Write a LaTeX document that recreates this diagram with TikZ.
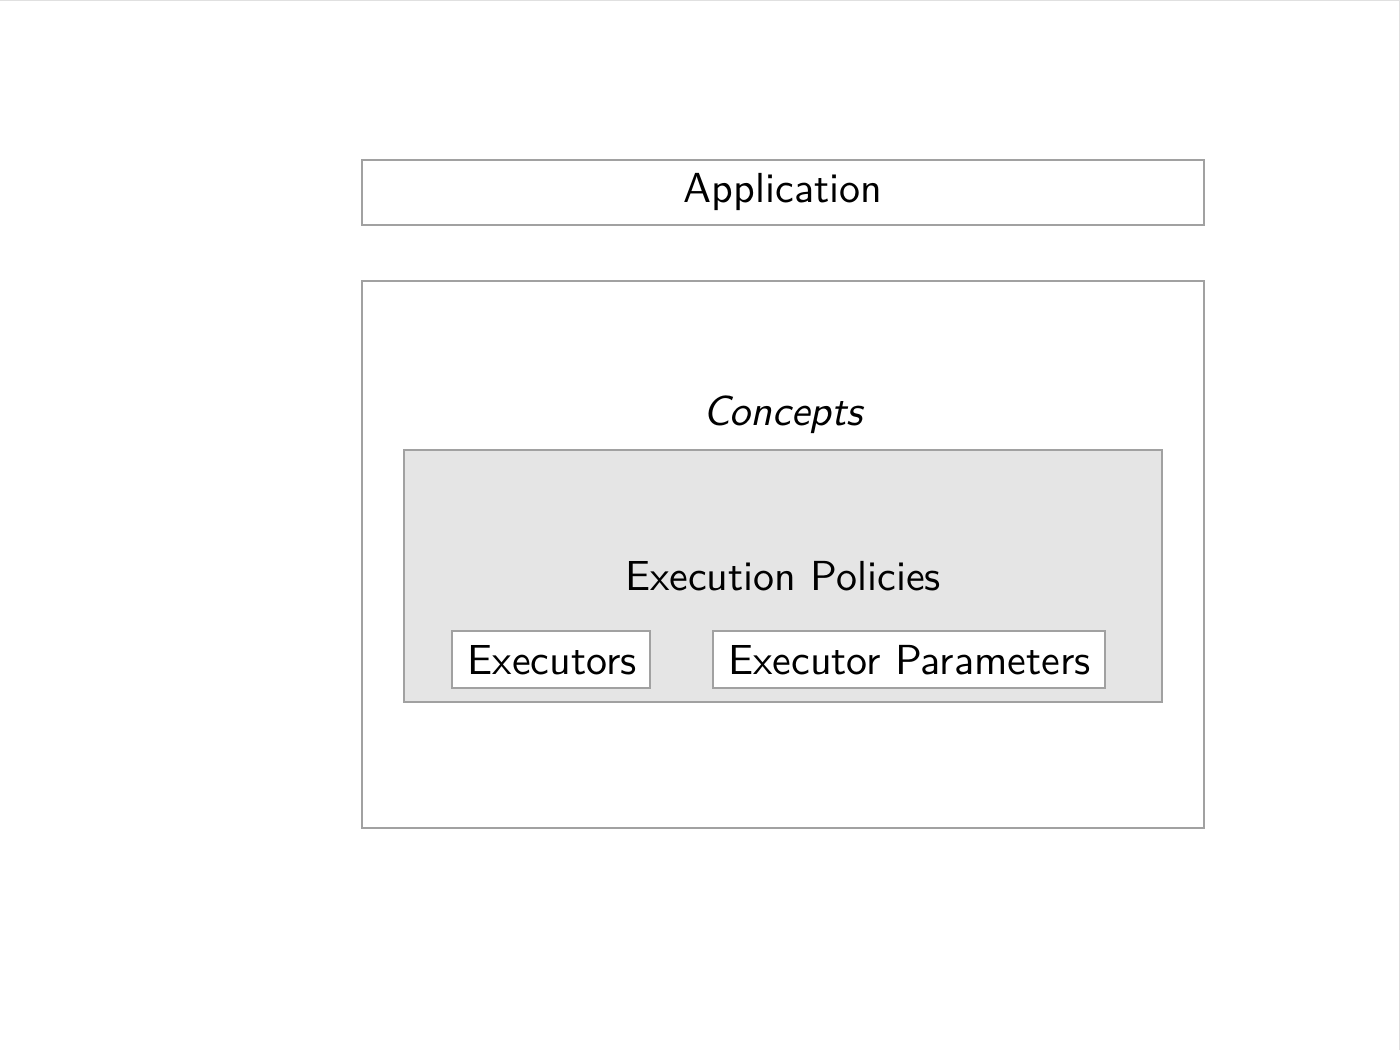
\documentclass[tikz,border=0pt]{standalone}
\usepackage{fontspec}
\newfontfamily\lmsten{lmsans10-regular.otf}[ItalicFont=lmsans10-oblique.otf]
\begin{document}
\begin{tikzpicture}[x=1pt,y=-1pt,
  frame/.style={draw=black!37,line width=1.6pt,inner sep=0pt,outer sep=0pt},
  lbl/.style={anchor=base,inner sep=0pt,font=\fontsize{42}{50}\selectfont\lmsten}]
\useasboundingbox (0,0) rectangle (1400,1050);
\draw[black!12,line width=1.5pt] (0,0.7) -- (1399.3,0.7) -- (1399.3,1050);
% boxes
\node[frame,fill=white,minimum width=842pt,minimum height=65pt] (app) at (783,192.5) {};
\node[frame,fill=white,minimum width=842pt,minimum height=547pt] (concepts) at (783,554.5) {};
\node[frame,fill=black!10,minimum width=758pt,minimum height=252pt] (policies) at (783,576) {};
\node[frame,fill=white,minimum width=198pt,minimum height=57pt] (executors) at (551,659.5) {};
\node[frame,fill=white,minimum width=392pt,minimum height=57pt] (params) at (909,659.5) {};
% labels
\node[lbl] (appl) at (783,202) {Application};
\node[lbl,font=\fontsize{42}{50}\selectfont\lmsten\itshape] (conl) at (783,425) {Concepts};
\node[lbl] (poll) at (783,590) {Execution Policies};
\node[lbl] (exel) at (552,674) {Executors};
\node[lbl] (parl) at (909.5,674) {Executor Parameters};
\end{tikzpicture}
\end{document}
